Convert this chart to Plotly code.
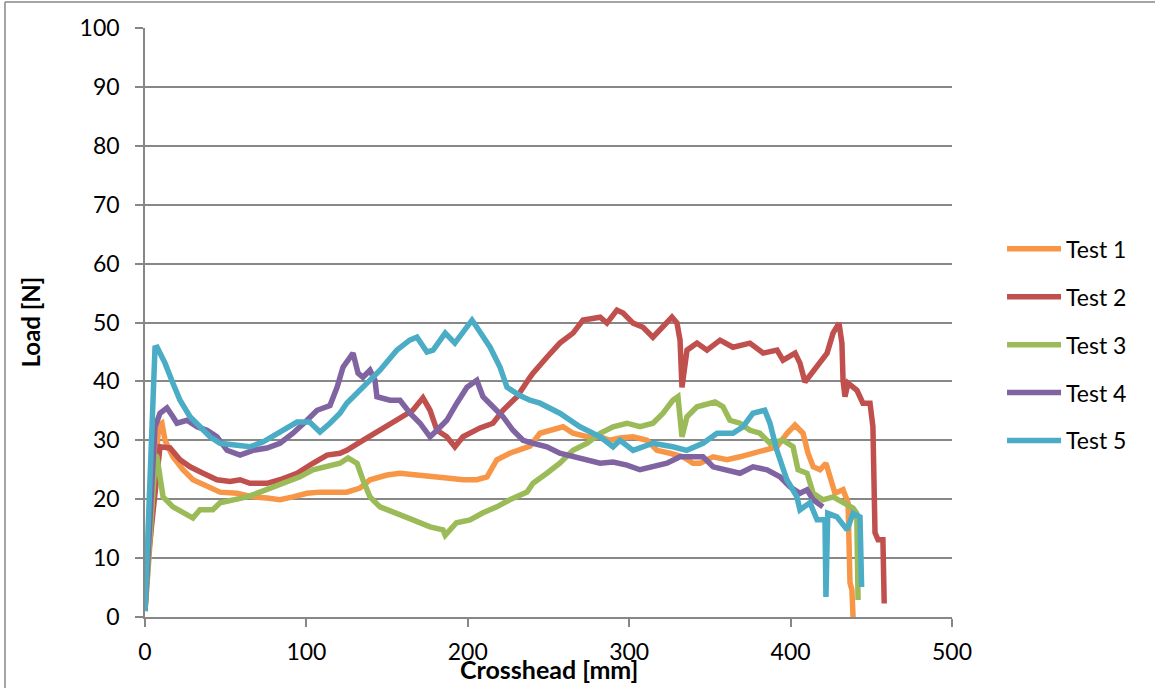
import plotly.graph_objects as go

# ---- data ----
series_names = ["Test 1", "Test 2", "Test 3", "Test 4", "Test 5"]

x1 = [0, 8.5, 10.5, 12.4, 17.3, 23.5, 29.7, 38.4, 46.5, 57, 66.9, 75.6, 83.6, 91.7, 100.4, 108.4, 120.8, 125,
      133.2, 139.4, 150, 158, 168.5, 176.6, 187, 197, 205.6, 211.9, 218, 226, 232.3, 238.5, 244.7, 252.8, 259,
      265.2, 274, 282, 288, 294.3, 302.4, 311, 317.2, 325.3, 333.3, 339.5, 343.9, 352, 360.6, 368.6, 376.7, 385.4,
      391.5, 397.8, 402.7, 407.7, 410.8, 414, 418.2, 421.9, 424.4, 427.5, 432.5, 435.6, 436.8, 438, 438.7]
y1 = [1, 32.5, 32.9, 30, 27.2, 25, 23.3, 22.1, 21.2, 21, 20.4, 20.2, 19.9, 20.4, 21, 21.2, 21.2, 21.2,
      21.9, 23.3, 24.1, 24.4, 24.1, 23.8, 23.6, 23.3, 23.3, 23.8, 26.7, 27.8, 28.5, 29, 31.2, 31.7, 32.3,
      31.2, 30.6, 30.6, 30, 30.4, 30.6, 30, 28.3, 27.8, 27.2, 26.1, 26.1, 27.2, 26.7, 27.2, 27.8, 28.3,
      28.9, 31.2, 32.6, 31.2, 27.8, 25.5, 25, 26.1, 23.8, 21, 21.6, 19.4, 5.8, 4.6, 0]

x2 = [0, 1.5, 9.3, 15.5, 21.7, 27.9, 36, 44.6, 52.7, 58.9, 65, 75.6, 83.6, 94.2, 104, 112.8, 120.8, 125, 135,
      145.6, 156, 166, 172.2, 176.6, 180.9, 187, 192, 197, 207.6, 215.6, 221.8, 230.5, 238.5, 240.4, 249, 257,
      265.2, 271.4, 282, 286.2, 292.4, 296.2, 302.4, 308.6, 314.7, 319, 326.5, 329.6, 331.5, 332.7, 335.8, 342,
      348.2, 356.3, 364.3, 374.8, 383, 391.6, 395.3, 402.8, 405.8, 408.9, 416.4, 422.6, 426.3, 430, 431.8,
      432.5, 433.7, 435.6, 441.1, 444.8, 449.2, 451, 452.3, 454.2, 457.2, 458]
y2 = [2, 9, 28.9, 28.7, 26.7, 25.5, 24.4, 23.3, 23, 23.3, 22.7, 22.7, 23.3, 24.4, 26.1, 27.5, 27.8, 28.3, 30,
      31.7, 33.4, 35.1, 37.2, 35.1, 31.7, 30.6, 28.9, 30.6, 32.1, 32.9, 35.1, 37.4, 40.7, 41.4, 44.1, 46.5,
      48.2, 50.4, 50.9, 49.9, 52.1, 51.6, 49.9, 49.2, 47.5, 48.7, 50.9, 49.9, 47, 39, 45.3, 46.5,
      45.3, 47, 45.8, 46.5, 44.8, 45.3, 43.6, 44.8, 43.1, 39.9, 42.4, 44.8, 48.2, 49.9, 46.5,
      40.2, 37.4, 39.7, 38.5, 36.3, 36.3, 32.3, 14.3, 13.1, 13.1, 2.3]

x3 = [0, 6.5, 7.4, 9.3, 11.2, 17.3, 23.5, 29.7, 34, 42, 46.5, 54.5, 63.2, 71.2, 79.3, 88, 96, 104, 112.8, 120.8,
      125.8, 131.4, 135, 139.4, 145.6, 156, 166, 176.6, 184.6, 186, 193, 201.4, 209.4, 218, 226, 236.7, 240.4,
      249, 257, 265.2, 274, 282, 290, 298.6, 306.7, 314.7, 321, 327, 330.2, 332.7, 335.8, 342, 350, 353.2, 358.1,
      362.4, 368.6, 374.8, 381, 387.2, 395.3, 401.5, 404.6, 410.2, 414, 420, 426.3, 432.5, 438.7, 441, 441.8]
y3 = [1, 27.5, 27.2, 23.3, 20.4, 18.7, 17.8, 16.8, 18.2, 18.2, 19.4, 19.9, 20.4, 21.2, 22.1, 22.9, 23.8, 25, 25.5, 26.1,
      27, 26.1, 23.3, 20.4, 18.7, 17.7, 16.5, 15.3, 14.8, 13.9, 16, 16.5, 17.7, 18.7, 19.9, 21.2, 22.7,
      24.4, 26.1, 28.3, 29.5, 31.2, 32.3, 32.9, 32.3, 32.9, 34.6, 36.8, 37.4, 30.6, 34, 35.7, 36.3, 36.5, 35.7,
      33.4, 32.9, 31.7, 31.2, 29.5, 30, 28.9, 25, 24.4, 21, 19.9, 20.4, 19.4, 18.5, 17.6, 2.9]

x4 = [0, 6.2, 9.3, 13.6, 17.3, 19.8, 26, 32.2, 38.4, 44.6, 50.8, 58.9, 66.9, 75.6, 83.6, 91.7, 100.4, 106.6, 114.6,
      119, 122.7, 128.9, 132, 135, 139.4, 142.5, 143.7, 151.8, 158, 164.2, 170.4, 176.6, 180.9, 187, 193.2, 199.5,
      205.6, 209.4, 215.6, 221.8, 228, 234.2, 240.4, 249, 257, 265.2, 274, 282, 290, 298.6, 306.7, 314.7, 323.4,
      331.5, 339.5, 345.7, 352, 360.6, 368.6, 376.7, 385.4, 393.4, 399.6, 405.8, 410.2, 414, 420]
y4 = [1, 32.3, 34.6, 35.5, 34, 32.9, 33.4, 32.3, 31.7, 30.6, 28.3, 27.5, 28.3, 28.7, 29.5, 31.2, 33.4, 35.1, 35.9,
      39, 42.4, 44.8, 41.4, 40.7, 41.9, 40.2, 37.4, 36.8, 36.8, 34.6, 32.9, 30.6, 31.7, 33.4, 36.3, 39,
      40.2, 37.4, 35.7, 34, 31.7, 30, 29.5, 28.9, 27.8, 27.2, 26.7, 26.1, 26.3, 25.8, 25, 25.5, 26.1,
      27.2, 27.2, 27.2, 25.5, 25, 24.4, 25.5, 25, 23.8, 22.1, 21, 21.6, 19.9, 18.7]

x5 = [0, 6.2, 7.5, 12.4, 17.3, 21.7, 27.9, 34, 40.3, 46.5, 58.9, 65, 73, 83.6, 94.2, 102, 108.4, 114.6, 120.8, 125,
      135, 145.6, 156, 164, 168.5, 174.7, 178.5, 186, 192, 202.6, 205.6, 213.8, 220, 224.3, 232.3, 238.5, 244.7,
      257, 269.5, 282, 290, 294.3, 302.4, 314.7, 327, 335.6, 345.7, 354.4, 364.3, 370.5, 376.7, 384, 387.2, 391.5,
      397.7, 403.9, 405.8, 412, 416.4, 421.3, 421.9, 423, 428.7, 435, 438.7, 443, 444]
y5 = [1, 45.7, 45.8, 43.1, 39.7, 36.8, 34, 32.3, 30.6, 29.5, 29.2, 28.9, 29.7, 31.4, 33.1, 33.1, 31.4, 32.9, 34.6, 36.3,
      39.1, 41.9, 45.3, 47, 47.5, 45, 45.3, 48.2, 46.5, 50.4, 49.2, 45.8, 42.4, 39, 37.6, 36.8, 36.3,
      34.6, 32.3, 30.6, 28.9, 30, 28.3, 29.5, 28.9, 28.3, 29.5, 31.2, 31.2, 32.3, 34.6, 35.1, 32.9, 28.3,
      23.3, 20.4, 18.2, 19.4, 16.5, 16.5, 3.4, 17.6, 17, 14.8, 17.6, 17, 5.1]

xs = [x1, x2, x3, x4, x5]
ys = [y1, y2, y3, y4, y5]
colors = ["#F79646", "#C0504D", "#9BBB59", "#8064A2", "#4BACC6"]

x_ticks = [0, 100, 200, 300, 400, 500]
y_ticks = [0, 10, 20, 30, 40, 50, 60, 70, 80, 90, 100]

FONT = "Lato, 'Open Sans', sans-serif"
GRID = "#878787"

fig = go.Figure()
for i, name in enumerate(series_names):
    fig.add_trace(go.Scatter(
        x=xs[i], y=ys[i], name=name, mode="lines",
        line=dict(color=colors[i], width=5.5),
        legendgroup=name,
    ))

fig.update_layout(
    width=1155, height=688,
    margin=dict(l=145, r=203, t=28, b=71, autoexpand=False),
    paper_bgcolor="white", plot_bgcolor="white",
    font=dict(family=FONT, size=23, color="black"),
    showlegend=True,
    legend=dict(
        x=1.062, y=0.462, xanchor="left", yanchor="middle",
        font=dict(family=FONT, size=23, color="black"),
        tracegroupgap=15, itemwidth=54,
        bgcolor="rgba(0,0,0,0)",
    ),
    xaxis=dict(
        range=[0, 500], tickvals=x_ticks, ticktext=[str(v) for v in x_ticks],
        showgrid=False, zeroline=False,
        showline=True, linecolor=GRID, linewidth=1.5,
        ticks="outside", ticklen=8, tickcolor=GRID, tickwidth=1.5,
        ticklabelstandoff=6,
        tickfont=dict(family=FONT, size=23),
    ),
    yaxis=dict(
        range=[0, 100], tickvals=y_ticks, ticktext=[str(v) for v in y_ticks],
        showgrid=True, gridcolor=GRID, gridwidth=1.5, zeroline=False,
        showline=True, linecolor=GRID, linewidth=1.5,
        ticks="outside", ticklen=8, tickcolor=GRID, tickwidth=1.5,
        ticklabelstandoff=11,
        tickfont=dict(family=FONT, size=23),
    ),
    annotations=[
        dict(text="<b>Crosshead [mm]</b>", xref="paper", yref="paper", x=0.5, y=-0.088,
             xanchor="center", yanchor="middle", showarrow=False,
             font=dict(family=FONT, size=25)),
        dict(text="<b>Load [N]</b>", xref="paper", yref="paper", x=-0.1425, y=0.5,
             xanchor="center", yanchor="middle", textangle=-90, showarrow=False,
             font=dict(family=FONT, size=24)),
    ],
    shapes=[
        dict(type="line", xref="paper", yref="paper", x0=-0.1735, x1=-0.1735, y0=-0.3, y1=1.0441,
             line=dict(color=GRID, width=1.5)),
        dict(type="line", xref="paper", yref="paper", x0=-0.1735, x1=1.4, y0=1.0441, y1=1.0441,
             line=dict(color=GRID, width=1.5)),
    ],
)

fig.write_html("out.html", config={"displayModeBar": False},
               post_script="document.body.style.margin='0px';")
